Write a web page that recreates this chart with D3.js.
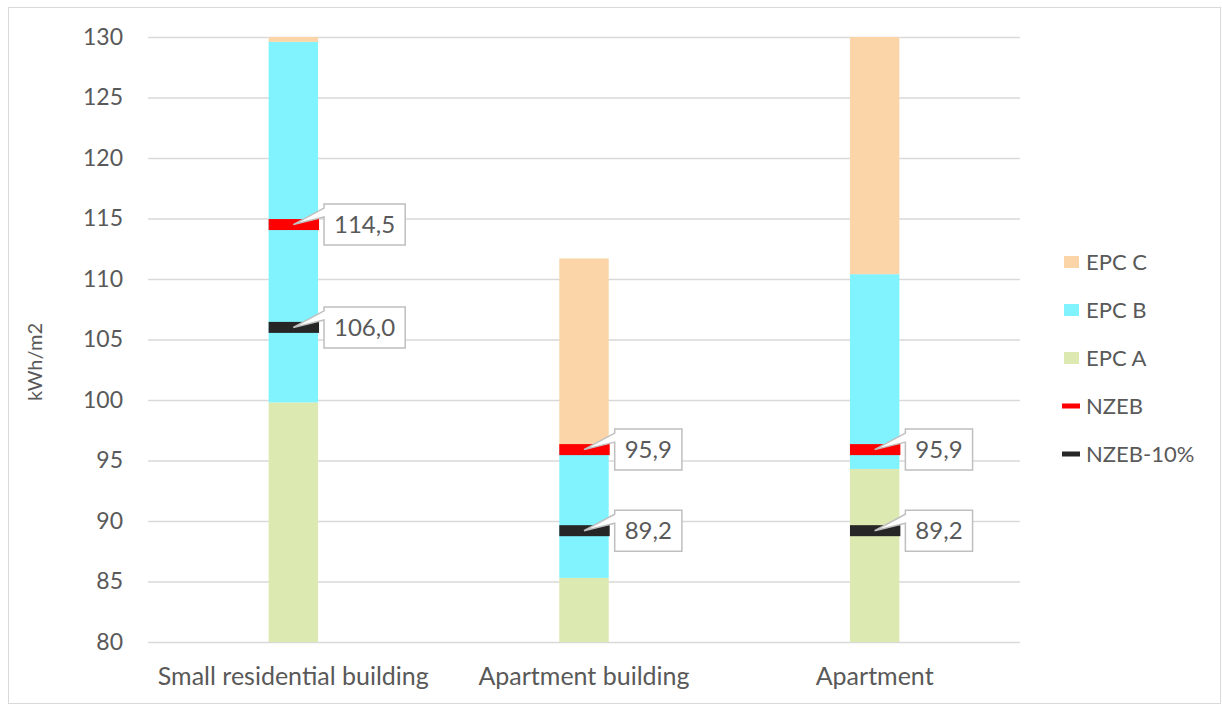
<!DOCTYPE html>
<html>
<head>
<meta charset="utf-8">
<script src="https://cdn.jsdelivr.net/npm/d3@7"></script>
<style>
html,body{margin:0;padding:0;background:#fff;}
svg{display:block;font-family:Lato,"Liberation Sans",sans-serif;}
</style>
</head>
<body>
<svg id="chart" width="1222" height="704"></svg>
<script>
// ---- data ----
const categories = ["Small residential building", "Apartment building", "Apartment"];
const epcA = [99.8, 85.3, 94.3];          // stacked segment heights
const epcB = [29.8, 10.7, 16.1];
const epcC = [10.4, 15.7, 20.0];
const nzeb = [114.5, 95.9, 95.9];
const nzeb10 = [106.0, 89.2, 89.2];
const yTicks = [80, 85, 90, 95, 100, 105, 110, 115, 120, 125, 130];
const seriesNames = ["EPC A", "EPC B", "EPC C"];
const seriesColors = {"EPC A": "#dce9b1", "EPC B": "#80f3ff", "EPC C": "#fbd5a8"};

const svg = d3.select("#chart");
const W = 1222, H = 704;
const plot = {left: 148, right: 1020, top: 37, bottom: 642};

// outer border
svg.append("rect").attr("x", 8.5).attr("y", 7.5).attr("width", W - 10).attr("height", H - 8)
  .attr("fill", "none").attr("stroke", "#d9d9d9").attr("stroke-width", 1);

const x = d3.scaleBand().domain(categories).range([plot.left, plot.right]).padding(0);
const y = d3.scaleLinear().domain([80, 130]).range([plot.bottom, plot.top]);
const bw = x.bandwidth() * 0.17;
const cx = c => x(c) + x.bandwidth() / 2;

// gridlines
const yAxis = d3.axisLeft(y).tickValues(yTicks).tickSize(-(plot.right - plot.left)).tickPadding(25);
const gy = svg.append("g").attr("transform", `translate(${plot.left},0)`).call(yAxis);
gy.select(".domain").remove();
gy.selectAll(".tick line").attr("stroke", "#d9d9d9").attr("stroke-width", 1.3);
gy.selectAll(".tick text").attr("fill", "#595959").attr("font-size", 23)
  .attr("font-family", "Lato, 'Liberation Sans', sans-serif");

// stacked bars
const rows = categories.map((c, i) => ({cat: c, "EPC A": epcA[i], "EPC B": epcB[i], "EPC C": epcC[i]}));
const stack = d3.stack().keys(seriesNames)(rows);
svg.append("defs").append("clipPath").attr("id", "plotclip").append("rect")
  .attr("x", plot.left).attr("y", plot.top).attr("width", plot.right - plot.left).attr("height", plot.bottom - plot.top);
const gBars = svg.append("g").attr("clip-path", "url(#plotclip)");
stack.forEach(s => {
  gBars.selectAll(null).data(s).enter().append("rect")
    .attr("x", d => cx(d.data.cat) - bw / 2)
    .attr("width", bw)
    .attr("y", d => y(Math.max(d[1], 80)))
    .attr("height", d => Math.max(0, y(Math.max(d[0], 80)) - y(Math.max(d[1], 80))))
    .attr("fill", seriesColors[s.key]);
});

// markers + callouts
function markers(vals, color) {
  categories.forEach((c, i) => {
    const v = vals[i];
    svg.append("rect").attr("x", cx(c) - bw / 2).attr("width", bw + 1)
      .attr("y", y(v) - 5.5).attr("height", 11).attr("fill", color);
  });
}
markers(nzeb, "#ff0000");
markers(nzeb10, "#262626");

function callouts(vals) {
  categories.forEach((c, i) => {
    const v = vals[i];
    const label = d3.format(".1f")(v).replace(".", ",");
    const g = svg.append("g");
    const t = g.append("text").text(label).attr("font-size", 24).attr("fill", "#595959")
      .attr("font-family", "Lato, 'Liberation Sans', sans-serif");
    const tw = t.node().getComputedTextLength();
    const bx = cx(c) + bw / 2 + 6, bh = 41, bwid = tw + 20;
    const by = y(v) - bh / 2;
    const tipX = cx(c), tipY = y(v);
    const p = d3.path();
    p.moveTo(bx, by);
    p.lineTo(bx + bwid, by);
    p.lineTo(bx + bwid, by + bh);
    p.lineTo(bx, by + bh);
    p.lineTo(bx, by + 13);
    p.lineTo(tipX, tipY);
    p.lineTo(bx, by + 4);
    p.closePath();
    g.insert("path", "text").attr("d", p.toString()).attr("fill", "#fff").attr("stroke", "#bfbfbf").attr("stroke-width", 1.5);
    t.attr("x", bx + bwid / 2).attr("y", by + bh / 2).attr("text-anchor", "middle").attr("dy", "0.36em");
  });
}
callouts(nzeb);
callouts(nzeb10);

// category labels
svg.append("g").selectAll("text").data(categories).enter().append("text")
  .attr("x", d => cx(d)).attr("y", 685).attr("text-anchor", "middle")
  .attr("font-size", 25).attr("fill", "#595959").text(d => d);

// y axis title
svg.append("text").attr("transform", "translate(42,362) rotate(-90)")
  .attr("text-anchor", "middle").attr("font-size", 20).attr("fill", "#595959").text("kWh/m2");

// legend
const legendItems = [
  {name: "EPC C", type: "box", color: seriesColors["EPC C"]},
  {name: "EPC B", type: "box", color: seriesColors["EPC B"]},
  {name: "EPC A", type: "box", color: seriesColors["EPC A"]},
  {name: "NZEB", type: "line", color: "#ff0000"},
  {name: "NZEB-10%", type: "line", color: "#262626"}
];
const lg = svg.append("g");
legendItems.forEach((d, i) => {
  const cyy = 262 + i * 48;
  if (d.type === "box") {
    lg.append("rect").attr("x", 1064).attr("y", cyy - 6).attr("width", 15).attr("height", 12).attr("fill", d.color);
  } else {
    lg.append("rect").attr("x", 1062).attr("y", cyy - 2.5).attr("width", 18).attr("height", 5).attr("fill", d.color);
  }
  lg.append("text").attr("x", 1086).attr("y", cyy).attr("dy", "0.36em")
    .attr("font-size", 22).attr("fill", "#595959").text(d.name);
});
</script>
</body>
</html>
